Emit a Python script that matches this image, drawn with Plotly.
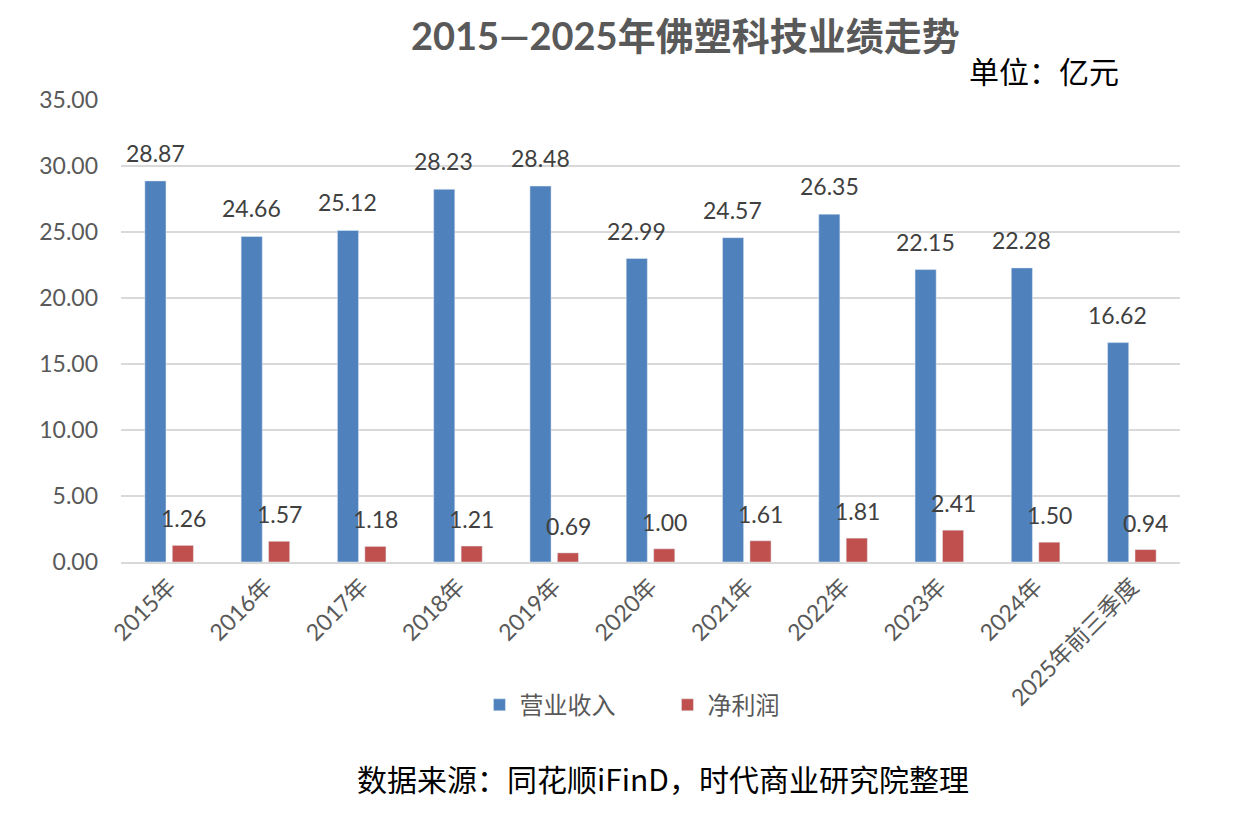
import plotly.graph_objects as go

categories = ["2015年", "2016年", "2017年", "2018年", "2019年", "2020年",
              "2021年", "2022年", "2023年", "2024年", "2025年前三季度"]
revenue = [28.87, 24.66, 25.12, 28.23, 28.48, 22.99, 24.57, 26.35, 22.15, 22.28, 16.62]
net_profit = [1.26, 1.57, 1.18, 1.21, 0.69, 1.00, 1.61, 1.81, 2.41, 1.50, 0.94]
y_ticks = [0, 5, 10, 15, 20, 25, 30, 35]

FONT = "Lato, Noto Sans CJK SC, sans-serif"
CJK = "Noto Sans CJK SC, sans-serif"

fig = go.Figure()
fig.add_trace(go.Bar(name="营业收入", x=categories, y=revenue, marker_color="#4F81BD"))
fig.add_trace(go.Bar(name="净利润", x=categories, y=net_profit, marker_color="#C0504D"))

ann = []
for c, v in zip(categories, revenue):
    ann.append(dict(x=c, y=v, xref="x", yref="y", text=f"{v:.2f}", showarrow=False,
                    xshift=-14, yshift=28, yanchor="middle",
                    font=dict(size=23, color="#404040", family=FONT)))
for c, v in zip(categories, net_profit):
    ann.append(dict(x=c, y=v, xref="x", yref="y", text=f"{v:.2f}", showarrow=False,
                    xshift=14, yshift=27, yanchor="middle",
                    font=dict(size=23, color="#404040", family=FONT)))

ann.append(dict(x=0.533, y=1.14, xref="paper", yref="paper", showarrow=False,
                xanchor="center", yanchor="middle",
                text="<b>2015—2025年佛塑科技业绩走势</b>",
                font=dict(size=38, color="#595959", family=FONT)))
ann.append(dict(x=0.872, y=1.065, xref="paper", yref="paper", showarrow=False,
                xanchor="center", yanchor="middle",
                text="单位：亿元", font=dict(size=30, color="#000000", family=CJK)))
ann.append(dict(x=0.512, y=-0.4675, xref="paper", yref="paper", showarrow=False,
                xanchor="center", yanchor="middle",
                text="数据来源：同花顺iFinD，时代商业研究院整理",
                font=dict(size=30, color="#000000", family=CJK)))

fig.update_layout(
    width=1237, height=814,
    margin=dict(l=113, r=65, t=92, b=260, autoexpand=False),
    paper_bgcolor="white", plot_bgcolor="white",
    barmode="group", bargap=0.43, bargroupgap=0.23,
    font=dict(family=FONT, color="#595959"),
    showlegend=True,
    legend=dict(orientation="h", x=0.516, y=-0.31, xanchor="center", yanchor="middle",
                font=dict(size=24, color="#595959", family=CJK), itemwidth=30,
                tracegroupgap=0, entrywidth=143),
    annotations=ann,
)
fig.update_xaxes(tickangle=-45, tickfont=dict(size=23, color="#595959", family=FONT),
                 showline=True, linecolor="#D9D9D9", linewidth=2, ticks="", showgrid=False)
fig.update_yaxes(range=[0, 35], tickvals=y_ticks, tickformat=".2f",
                 tickfont=dict(size=23, color="#595959", family=FONT),
                 showgrid=True, gridcolor="#D9D9D9", gridwidth=2, zeroline=False,
                 showline=False, ticks="", ticklabelstandoff=22)
fig.write_html("out.html")
